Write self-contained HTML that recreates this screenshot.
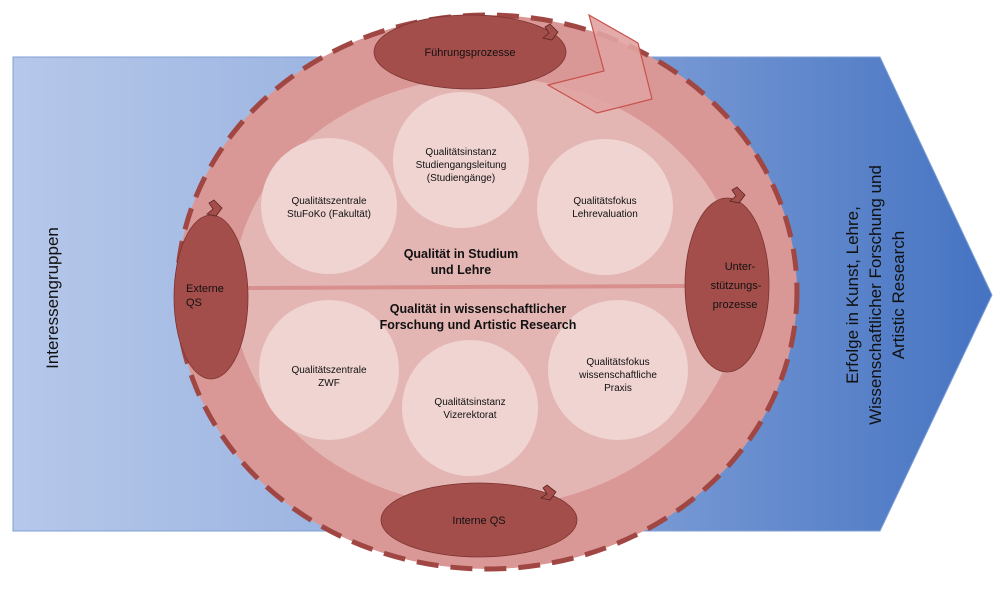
<!DOCTYPE html>
<html><head><meta charset="utf-8"><style>
body{margin:0;background:#fff;}
svg{display:block;font-family:"Liberation Sans",sans-serif;}
</style></head><body>
<svg width="1000" height="593" viewBox="0 0 1000 593" xmlns="http://www.w3.org/2000/svg">
<defs>
<linearGradient id="bg" x1="0" x2="1" y1="0" y2="0">
<stop offset="0" stop-color="#b6c8ea"/><stop offset="0.5" stop-color="#8eaadc"/><stop offset="1" stop-color="#4573c2"/>
</linearGradient>
</defs>
<polygon points="13,57 880,57 992,295 880,531 13,531" fill="url(#bg)" stroke="#7f9fd6" stroke-width="1"/>
<text transform="translate(58,298) rotate(-90)" font-size="17" fill="#111" text-anchor="middle">Interessengruppen</text>
<text transform="rotate(-90)" font-size="17" fill="#111" text-anchor="middle"><tspan x="-295" y="858">Erfolge in Kunst, Lehre,</tspan><tspan x="-295" y="881">Wissenschaftlicher Forschung und</tspan><tspan x="-295" y="904">Artistic Research</tspan></text>
<ellipse cx="487" cy="292" rx="310" ry="277" fill="#d99895"/>
<ellipse cx="487" cy="292" rx="254" ry="215" fill="#e3b6b3"/>
<line x1="248" y1="288" x2="686" y2="286" stroke="#d8908e" stroke-width="4"/>
<g fill="#f0d4d2">
<circle cx="461" cy="160" r="68"/><circle cx="329" cy="206" r="68"/><circle cx="605" cy="207" r="68"/>
<circle cx="329" cy="370" r="70"/><circle cx="470" cy="408" r="68"/><circle cx="618" cy="370" r="70"/>
</g>
<ellipse cx="487" cy="292" rx="310" ry="277" fill="none" stroke="#a04643" stroke-width="5" stroke-dasharray="22,12"/>
<polygon points="589,15 638,43 652,99 597,113 548,85 604,71" fill="#e0a3a1" fill-opacity="0.9" stroke="#c9504c" stroke-width="1.2"/>
<g fill="#a44e4b" stroke="#7a3331" stroke-width="0.8">
<ellipse cx="470" cy="52" rx="96" ry="37"/>
<ellipse cx="479" cy="520" rx="98" ry="37"/>
<ellipse cx="211" cy="297" rx="37" ry="82"/>
<ellipse cx="727" cy="285" rx="42" ry="87"/>
</g>
<g fill="#a44e4b" stroke="#5a2523" stroke-width="0.8">
<polygon points="550,24 558,32 552,40 543,38 549,33 545,27"/>
<polygon points="547,485 556,492 550,500 541,498 547,494 543,488"/>
<polygon points="214,200 222,208 216,216 207,214 213,209 209,203"/>
<polygon points="737,187 745,195 739,203 730,201 736,196 732,190"/>
</g>
<g font-size="11" fill="#111" text-anchor="middle">
<text x="470" y="56">Führungsprozesse</text>
<text x="479" y="524">Interne QS</text>
<text x="186" y="292" text-anchor="start">Externe</text><text x="186" y="306" text-anchor="start">QS</text>
<text x="740" y="270">Unter-</text><text x="736" y="289">stützungs-</text><text x="735" y="308">prozesse</text>
</g>
<g font-size="10" fill="#111" text-anchor="middle">
<text x="461" y="155">Qualitätsinstanz</text><text x="461" y="168">Studiengangsleitung</text><text x="461" y="181">(Studiengänge)</text>
<text x="329" y="204">Qualitätszentrale</text><text x="329" y="217">StuFoKo (Fakultät)</text>
<text x="605" y="204">Qualitätsfokus</text><text x="605" y="217">Lehrevaluation</text>
<text x="329" y="373">Qualitätszentrale</text><text x="329" y="386">ZWF</text>
<text x="470" y="405">Qualitätsinstanz</text><text x="470" y="418">Vizerektorat</text>
<text x="618" y="365">Qualitätsfokus</text><text x="618" y="378">wissenschaftliche</text><text x="618" y="391">Praxis</text>
</g>
<g font-size="12.5" font-weight="bold" fill="#111" text-anchor="middle">
<text x="461" y="258">Qualität in Studium</text><text x="461" y="274">und Lehre</text>
<text x="478" y="313">Qualität in wissenschaftlicher</text><text x="478" y="329">Forschung und Artistic Research</text>
</g>
</svg>
</body></html>
